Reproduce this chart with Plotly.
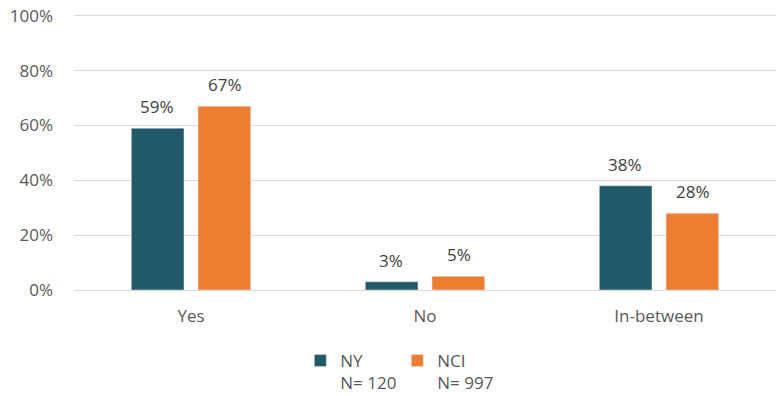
import plotly.graph_objects as go

# datos
categorias = ["Yes", "No", "In-between"]
ny_valores = [59, 3, 38]
nci_valores = [67, 5, 28]
ny_nombre = "NY<br>N= 120"
nci_nombre = "NCI<br>N= 997"
ticks_y = [0, 20, 40, 60, 80, 100]

color_ny = "#215968"
color_nci = "#ED7D31"
gris = "#595959"
fuente = "Open Sans, sans-serif"
tam = 17

fig = go.Figure()

fig.add_trace(go.Bar(x=categorias, y=ny_valores, name=ny_nombre,
                     marker=dict(color=color_ny)))
fig.add_trace(go.Bar(x=categorias, y=nci_valores, name=nci_nombre,
                     marker=dict(color=color_nci)))

# etiquetas de datos encima de las barras (con separacion como en Excel)
for valores, corrimiento in [(ny_valores, -34), (nci_valores, 34)]:
    for cat, v in zip(categorias, valores):
        fig.add_annotation(x=cat, y=v, text=f"{v}%", showarrow=False,
                           xshift=corrimiento, yshift=8, yanchor="bottom",
                           font=dict(size=tam, color="#404040"))

fig.update_layout(
    width=776, height=396,
    margin=dict(l=74, r=0, t=13, b=106, autoexpand=False),
    paper_bgcolor="white", plot_bgcolor="white",
    font=dict(family=fuente, size=tam, color=gris),
    barmode="group", bargap=0.43, bargroupgap=0.21,
    showlegend=True,
    legend=dict(orientation="h", xref="container", x=0.512, xanchor="center",
                yref="container", y=1 - 343 / 396, yanchor="top",
                valign="top", font=dict(size=tam, color=gris),
                entrywidth=52, entrywidthmode="pixels"),
)

fig.update_yaxes(range=[0, 101], tickvals=ticks_y,
                 ticktext=[f"{t}%" for t in ticks_y],
                 showgrid=True, gridcolor="#D9D9D9", gridwidth=1,
                 zeroline=True, zerolinecolor="#D9D9D9", zerolinewidth=1,
                 ticks="", ticklabelstandoff=20, automargin=False,
                 tickfont=dict(size=tam, color=gris))
fig.update_xaxes(showline=False, ticks="", automargin=False,
                 ticklabelstandoff=14,
                 tickfont=dict(size=tam, color=gris))

# quitar el margen por defecto del body para que el grafico quede en 0,0
fig.write_html("out.html", config={"displayModeBar": False},
               post_script="document.body.style.margin='0';")
